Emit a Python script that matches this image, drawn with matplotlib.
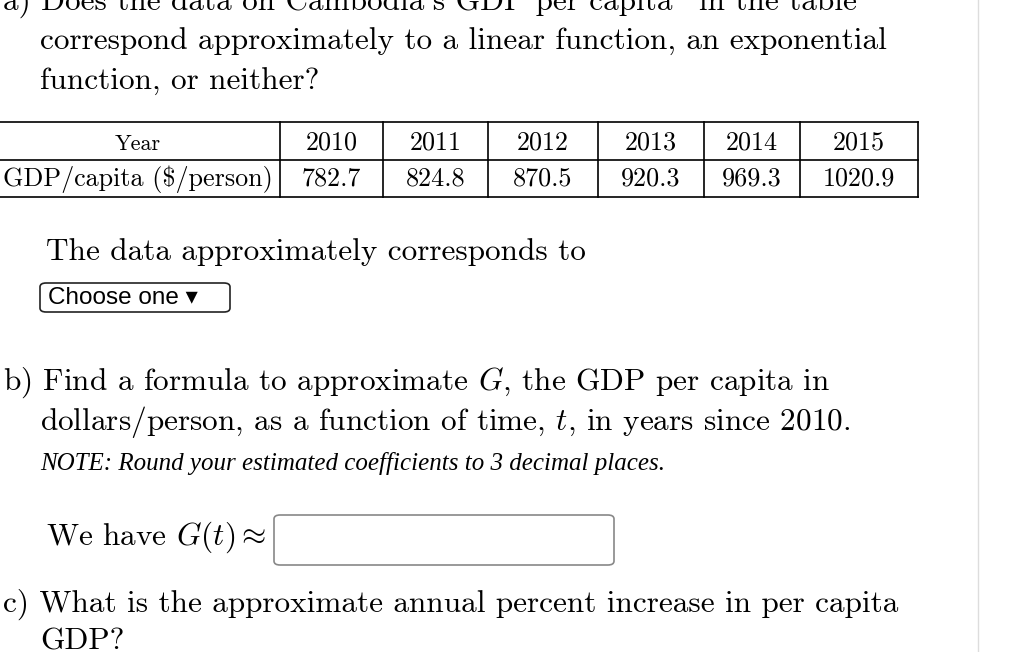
import matplotlib
matplotlib.use("Agg")
import matplotlib.pyplot as plt
from matplotlib.lines import Line2D
from matplotlib.patches import FancyBboxPatch

plt.rcParams['mathtext.fontset'] = 'cm'
plt.rcParams['font.family'] = ['cmr10', 'DejaVu Serif']
plt.rcParams['axes.unicode_minus'] = False

years = [2010, 2011, 2012, 2013, 2014, 2015]
gdp = [782.7, 824.8, 870.5, 920.3, 969.3, 1020.9]
row_labels = ["Year", "GDP/capita ($/person)"]

W, H = 1023, 652
fig = plt.figure(figsize=(W/100, H/100), dpi=100)
fig.patch.set_facecolor('white')

def P(x, y):
    return x / W, 1 - y / H

def txt(x, y, s, size=22.5, ha='left', **kw):
    fig.text(*P(x, y), s, fontsize=size, ha=ha, va='baseline', **kw)

def line(x0, y0, x1, y1, c='black', lw=1.2):
    fig.add_artist(Line2D([x0/W, x1/W], [1-y0/H, 1-y1/H], color=c, lw=lw))

line(978, 0, 978, 652, c='#dddddd', lw=1)

txt(3, 10, "a) Does the data on Cambodia's GDP per capita\u201d in the table")
txt(40, 50, "correspond approximately to a linear function, an exponential")
txt(40, 90, "function, or neither?")

# table
xs = [0, 280, 383, 488, 598, 704, 800, 918]
ys = [122, 160, 197]
for y in ys:
    line(0, y, xs[-1], y)
for x in xs[1:]:
    line(x, ys[0], x, ys[-1])
txt(138, 150, row_labels[0], size=16, ha='center')
txt(138, 186, row_labels[1].replace('$', r'\$'), size=18.8, ha='center')
for i, (yr, g) in enumerate(zip(years, gdp)):
    cx = (xs[i+1] + xs[i+2]) / 2
    txt(cx, 150, str(yr), size=18.8, ha='center')
    txt(cx, 186, f"{g:.1f}", size=18.8, ha='center')

txt(46, 260, "The data approximately corresponds to")
fig.add_artist(FancyBboxPatch(P(40, 312), 190/W, 29/H,
               boxstyle="round,pad=0,rounding_size=0.006", fc='white', ec='#222222', lw=1.2))
fig.text(*P(48, 304), "Choose one \u25be", fontsize=17.5,
         family=['Liberation Sans', 'DejaVu Sans'], va='baseline')

txt(3, 390, r"b) Find a formula to approximate $G$, the GDP per capita in")
txt(40, 430, r"dollars/person, as a function of time, $t$, in years since 2010.")
txt(40, 470, "NOTE: Round your estimated coefficients to 3 decimal places.", size=18,
    family='Liberation Serif', style='italic')

txt(46, 545, r"We have $G(t)\approx$")
fig.add_artist(FancyBboxPatch(P(274, 565), 340/W, 50/H,
               boxstyle="round,pad=0,rounding_size=0.006", fc='white', ec='#888888', lw=1.2))

txt(3, 612, "c) What is the approximate annual percent increase in per capita")
txt(40, 650, "GDP?")

fig.savefig("out.png", dpi=100)
